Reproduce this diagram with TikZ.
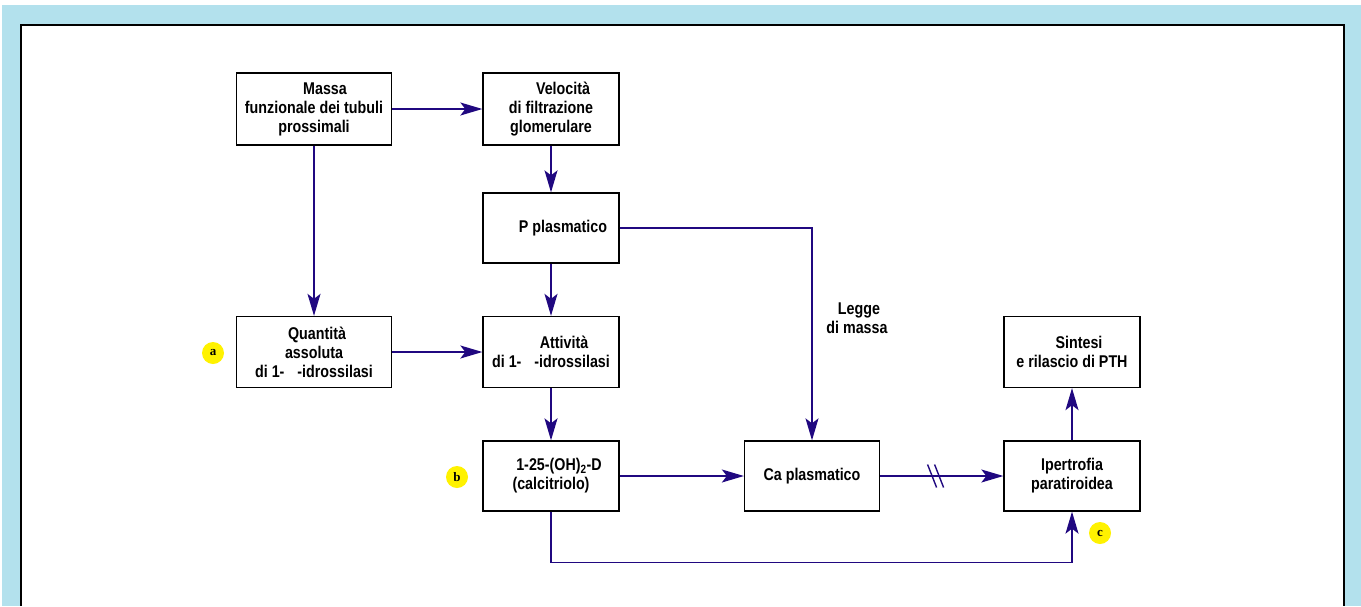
\documentclass[tikz,border=0pt]{standalone}
\usepackage{fontspec}
\setmainfont{Liberation Sans}[FakeStretch=0.84]
\newfontfamily\letterfont{Liberation Serif}
\usetikzlibrary{arrows.meta,positioning,calc}
\definecolor{framecyan}{RGB}{179,225,237}
\definecolor{arrownavy}{RGB}{32,8,128}
\definecolor{badgeyellow}{RGB}{255,242,0}

\begin{document}
\begin{tikzpicture}[x=1pt,y=-1pt,
    box/.style={draw=black,line width=1.3pt,fill=white,inner sep=0pt,
      align=center,font=\bfseries\fontsize{17}{19}\selectfont},
    flow/.style={draw=arrownavy,line width=1.4pt,
      -{Stealth[length=22pt,width=13pt,inset=5pt]}},
    badge/.style={circle,fill=badgeyellow,minimum size=22pt,inner sep=0pt,
      font=\letterfont\bfseries\fontsize{13}{13}\selectfont}]
  \useasboundingbox (0,0) rectangle (1361,606);
  % frame
  \fill[framecyan] (2,5) rectangle (1361,606);
  \fill[white] (21,25) rectangle (1344,606);
  \draw[black,line width=1.3pt] (21,606) -- (21,25) -- (1344,25) -- (1344,606);

  % boxes
  \node[box,minimum width=155pt,minimum height=72pt] (massa) at (314,109)
    {\hspace*{22pt}Massa\\funzionale dei tubuli\\prossimali};
  \node[box,minimum width=136pt,minimum height=72pt] (velocita) at (551,109)
    {\hspace*{24pt}Velocità\\di filtrazione\\glomerulare};
  \node[box,minimum width=136pt,minimum height=70pt] (pplasma) at (551,228)
    {\hspace*{24pt}P plasmatico};
  \node[box,minimum width=155pt,minimum height=71pt] (quantita) at (314,352)
    {\hspace*{6pt}Quantità\\assoluta\\di 1-\hspace{13pt}-idrossilasi};
  \node[box,minimum width=136pt,minimum height=71pt] (attivita) at (551,352)
    {\hspace*{26pt}Attività\\di 1-\hspace{13pt}-idrossilasi};
  \node[box,minimum width=136pt,minimum height=70pt] (calcitriolo) at (551,476)
    {\hspace*{16pt}1-25-(OH)\textsubscript{2}-D\\(calcitriolo)};
  \node[box,minimum width=135pt,minimum height=70pt] (caplasma) at (812,476)
    {Ca plasmatico};
  \node[box,minimum width=136pt,minimum height=70pt] (ipertrofia) at (1072,476)
    {Ipertrofia\\paratiroidea};
  \node[box,minimum width=136pt,minimum height=71pt] (sintesi) at (1072,352)
    {\hspace*{14pt}Sintesi\\e rilascio di PTH};
  \node[align=center,inner sep=0pt,font=\bfseries\fontsize{17}{19}\selectfont]
    (legge) at (857,318) {\hspace*{4pt}Legge\\di massa};

  % badges
  \node[badge] (bada) at (213,353) {a};
  \node[badge] (badb) at (457,477) {b};
  \node[badge] (badc) at (1100,533) {c};

  % connectors
  \draw[flow] (massa) -- (velocita);
  \draw[flow] (massa) -- (quantita);
  \draw[flow] (velocita) -- (pplasma);
  \draw[flow] (pplasma) -- (attivita);
  \draw[flow] (pplasma.east) -| (caplasma.north);
  \draw[flow] (quantita) -- (attivita);
  \draw[flow] (attivita) -- (calcitriolo);
  \draw[flow] (calcitriolo) -- (caplasma);
  \draw[flow] (caplasma) -- (ipertrofia);
  \draw[flow] (calcitriolo.south) -- ++(0,51) -| (ipertrofia.south);
  \draw[flow] (ipertrofia) -- (sintesi);

  % cut mark
  \coordinate (cut) at ($(caplasma.east)!0.45!(ipertrofia.west)$);
  \draw[arrownavy,line width=1.4pt]
    ($(cut)+(-8,-11.5)$) -- ++(9,23)
    ($(cut)+(-1,-11.5)$) -- ++(9,23);
\end{tikzpicture}
\end{document}
